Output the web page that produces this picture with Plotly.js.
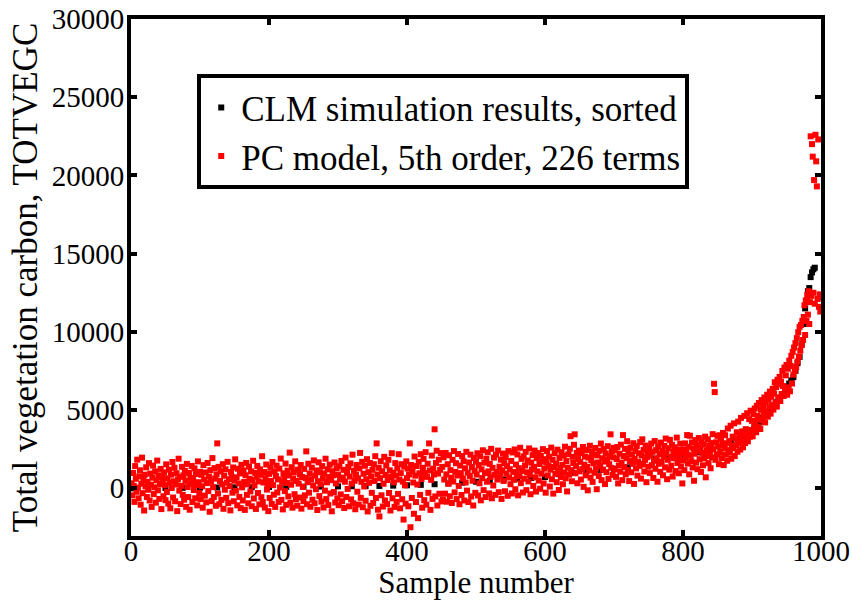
<!DOCTYPE html>
<html>
<head>
<meta charset="utf-8">
<script src="https://cdn.plot.ly/plotly-3.0.1.min.js"></script>
<style>
  html, body { margin: 0; padding: 0; background: #ffffff; }
  #chart { width: 852px; height: 600px; }
</style>
</head>
<body>
<div id="chart"></div>
<script>
// Sorted CLM output (total vegetation carbon) at selected sample numbers
const clmSample = [1, 25, 50, 75, 100, 125, 150, 175, 200, 225, 250, 275, 300, 320, 340, 360, 380, 400, 420, 440, 460, 480, 500, 520, 540, 560, 580, 600, 620, 640, 660, 680, 700, 720, 740, 760, 780, 800, 820, 840, 860, 870, 880, 890, 895, 900, 905, 910, 915, 920, 925, 930, 935, 940, 944, 948, 951, 954, 957, 960, 963, 966, 969, 972, 975, 977, 979, 981, 983, 985, 987, 989, 991];
const clmValue = [0, 10, 20, 30, 40, 50, 60, 70, 80, 90, 100, 110, 120, 130, 140, 150, 170, 190, 220, 260, 310, 360, 420, 480, 560, 620, 660, 720, 900, 1000, 1100, 1180, 1250, 1340, 1560, 1900, 2000, 2150, 2300, 2500, 2750, 3000, 3150, 3300, 3400, 3700, 4000, 4200, 4500, 4700, 4900, 5200, 5500, 5800, 6000, 6300, 6500, 6700, 6900, 7100, 7500, 8000, 8400, 9200, 10500, 11500, 12000, 12600, 12800, 13500, 13800, 14000, 14100];

// PC surrogate (5th order, 226 terms) prediction for samples 1..1000
const pcValue = [
  320, -450, 980, 150, -870, 1420, 610, -220, 1830, 40, -640, 760, 1150, -1050, 290, 1960, -310, 530, -1420, 870, 120, 1340, -560, 410, -90, 1610, -780, 940, 230, -1190, 680, 1450, -370, 60, 1080, -920, 510, 1770, -130, 830, -680, 270, 1240, -1330, 720, 380, -510, 1020, 190, -760,
  1530, -240, 640, -980, 1190, 350, -1280, 870, 20, 1680, -590, 450, 1310, -830, 240, 960, -1460, 570, 1890, -150, 730, -1010, 160, 1370, -420, 820, -730, 1120, 470, -1190, 1560, 80, -560, 990, -1370, 660, 280, 1430, -880, 540, -110, 1270, -640, 910, 210, -1090, 1720, 390, -300, 1050,
  -690, 860, 130, -1240, 1480, 560, -470, 1010, -900, 330, 1620, -180, 750, -1500, 1160, 430, -820, 1930, 70, -560, 1290, 620, -1120, 890, 2870, -340, 1370, -1020, 470, 1080, -740, 250, 1540, -1310, 800, -90, 1210, -610, 360, 1690, -950, 580, 140, -1410, 1040, 720, -280, 1330, -830, 490,
  1850, -160, 700, -1090, 1250, 310, -550, 950, -1270, 1500, 60, -780, 1140, 400, -1380, 830, 1620, -420, 250, -960, 1390, 610, -200, 1080, -1150, 520, 1760, -650, 180, 990, -1320, 740, 1430, -300, 440, -1030, 1210, 860, -570, 2050, -880, 370, 1040, -1230, 650, 1520, -80, 280, -1460, 920,
  -620, 1310, 470, -1000, 1680, 200, -410, 1070, -1190, 780, 1450, -270, 570, -870, 1260, 50, 1900, -740, 410, -1350, 960, 690, -180, 1580, -1060, 340, 1130, -520, 820, 2280, -930, 230, 1350, -1240, 610, 1010, -380, 1720, -700, 470, -1110, 1190, 300, -590, 880, 1490, -1300, 720, 90, -820,
  1240, -450, 660, 2360, -1020, 390, 1570, -280, 940, -1180, 570, 1320, -730, 180, 1780, -960, 800, -60, 1140, -1390, 450, 1660, -500, 1030, 260, -850, 1420, 640, -1230, 950, -150, 1890, -690, 380, 1210, -1070, 720, 1510, -330, 520, -1470, 1090, 830, -240, 1650, -910, 310, 1280, -640, 870,
  -1080, 1410, 560, -390, 1750, -830, 690, 1180, -1260, 420, 1960, -560, 980, -40, 1360, -1150, 750, 1590, -710, 300, 2150, -960, 1120, 480, -1340, 860, 1490, -220, 640, -1040, 1270, 2260, -610, 410, 1690, -1210, 930, 120, 1440, -800, 580, 1860, -1480, 1030, 350, 1620, -1120, 760, -290, 1180,
  -940, 1540, 470, 2050, -620, 2870, 880, -1370, 1310, -1800, 640, 1730, -450, 1090, -1170, 290, 2010, -780, 850, 1460, -1010, 530, 1820, -300, 1150, -1420, 720, 2240, -640, 1000, 380, -1190, 1610, 810, -870, 1270, -360, 2180, 560, -1280, 970, 1540, -700, 430, -2000, 1380, 190, -980, 1720, 650,
  1260, -1150, 880, 2870, -2490, 1490, -620, 1100, 370, -1630, 2030, 810, -880, 1420, 240, -1910, 1690, 960, -420, 2180, 600, -1240, 1310, 1880, -760, 980, 2310, -1050, 730, 1570, -290, 2870, 1140, -1380, 540, 2090, -680, 1250, 880, 3770, -520, 1620, 2400, -1100, 940, 1830, -350, 1180, 2250, -840,
  1370, -720, 1980, 560, -340, 2260, 890, -860, 1540, 290, 2110, -510, 1160, 680, -940, 1820, 430, 2380, -260, 1050, 1600, -690, 820, 2190, 150, -1020, 1450, 970, -430, 2060, 620, 1730, -780, 1280, 370, 2330, -150, 1000, -880, 1650, 790, 2150, -520, 1360, 480, -1100, 1930, 1120, -290, 1700,
  880, 2240, -460, 1490, 320, 2050, -770, 1210, 650, 2430, -120, 1640, 970, -560, 1890, 420, 2300, 1080, -330, 1560, 720, 2520, -640, 1310, 180, 1960, 870, -420, 2150, 1040, 560, 2410, -250, 1380, 790, 1830, -680, 1150, 2220, 470, 1610, -190, 2000, 940, 1420, -480, 2380, 690, 1220, 260,
  1750, -330, 2290, 1040, 540, 2480, -60, 1520, 910, 2160, -450, 1290, 760, 2590, 330, 1880, 1110, -270, 2040, 610, 1460, 2330, -120, 1020, 1780, 440, 2550, 860, -380, 1640, 1200, 2120, 150, 1370, 2410, 700, -210, 1930, 1080, 2260, 490, 1550, -30, 2080, 930, 1720, 2500, 310, 1260, 1860,
  -280, 1650, 2380, 820, 1430, 2020, 110, 1190, 2600, 580, 1820, -340, 1360, 2240, 930, 1580, 390, 2470, 1090, -110, 1940, 1270, 720, 2310, 1500, 260, 2090, 1010, 2660, 640, 1740, -200, 1320, 2180, 870, 2530, 3330, 1160, 450, 2010, 1620, 2780, 3450, 960, 1430, 2260, 320, 1870, 2410, 1080,
  1690, 560, 2250, 1220, 2640, 90, 1510, 2030, 830, 2450, 1370, -130, 1960, 1140, 2720, 680, 1800, 2330, 410, 1590, 2160, 990, 2580, 1260, -60, 2100, 1650, 780, 2400, 1430, 2860, 520, 1920, 1190, 2510, 1710, 270, 2230, 1030, 1850, 2690, 600, 1540, 2050, 3450, 1310, 2370, 860, 1980, 2590,
  1210, 2430, 730, 1870, 2640, 310, 1460, 2210, 1060, 2790, 1640, 520, 3400, 2060, 1350, 2520, 890, 1930, 3010, 1170, 2320, 460, 1740, 2600, 1020, 2150, 1560, 2880, 280, 1880, 2380, 1270, 2700, 810, 1690, 2240, 1430, 2950, 620, 2100, 3130, 1520, 2460, 1070, 1820, 2730, 390, 1990, 2290, 1380,
  2550, 970, 2080, 2860, 1480, 2330, 660, 1760, 3020, 1250, 2440, 1900, 420, 2670, 1570, 2190, 1050, 2920, 1680, 2380, 830, 2010, 2710, 1340, 3180, 2250, 580, 1820, 2560, 1190, 3100, 2000, 1450, 2780, 750, 2340, 1920, 2620, 1100, 2150, 3240, 1620, 2450, 960, 2000, 2850, 1390, 2280, 310, 1780,
  2480, 1160, 2870, 1950, 2290, 3400, 1580, 2650, 890, 3360, 2120, 1740, 2930, 1330, 2540, 480, 2210, 3080, 1640, 2750, 1220, 2380, 3210, 1860, 2610, 1040, 2990, 2260, 1470, 2800, 1910, 3300, 700, 2430, 2060, 3130, 1610, 2720, 2330, 1280, 2890, 1980, 3460, 2500, 6680, 6150, 1820, 2940, 2180, 3350,
  2670, 1540, 3390, 2320, 3150, 1930, 2790, 3540, 1480, 2560, 3390, 2150, 2880, 1760, 3820, 2440, 3010, 2280, 4000, 1890, 2720, 3300, 2560, 4150, 2060, 3180, 2760, 3580, 2340, 4260, 2900, 3320, 2480, 4500, 3060, 3640, 2620, 3460, 4630, 2890, 3780, 3190, 4800, 3000, 3570, 4420, 3300, 4960, 3730, 4310,
  3320, 4740, 3910, 5100, 4280, 3580, 5270, 4630, 3930, 5450, 4410, 3790, 5020, 5640, 4340, 5260, 4680, 5810, 4210, 5500, 4920, 5980, 4580, 5690, 5160, 6180, 4770, 5850, 5320, 6360, 5030, 6060, 6780, 5450, 6470, 5220, 6940, 5790, 6640, 7120, 5580, 6800, 6030, 7500, 6530, 5900, 7720, 6360, 7220, 7880,
  5980, 7640, 6450, 8160, 6200, 7820, 8470, 6700, 8720, 7260, 9000, 7500, 9280, 7750, 9600, 8100, 9980, 8420, 10320, 8800, 10440, 9160, 10700, 9480, 10950, 11700, 9800, 12000, 10700, 12350, 11100, 12600, 10500, 11900, 22500, 12300, 22000, 21200, 12500, 19700, 11800, 22600, 20900, 19300, 12100, 22300, 11600, 12400, 11300, 12200
];
const pcSample = pcValue.map((_, i) => i + 1);

const xTicks = [0, 200, 400, 600, 800, 1000];
const yTicks = [0, 5000, 10000, 15000, 20000, 25000, 30000];

const serif = 'Liberation Serif, Times New Roman, serif';

const traces = [
  {
    type: 'scatter', mode: 'markers',
    name: 'CLM simulation results, sorted',
    x: clmSample, y: clmValue,
    marker: { symbol: 'square', size: 6, color: '#000000', line: { width: 0 } }
  },
  {
    type: 'scatter', mode: 'markers',
    name: 'PC model, 5th order, 226 terms',
    x: pcSample, y: pcValue,
    marker: { symbol: 'square', size: 6, color: '#ff0000', line: { width: 0 } }
  }
];

const axisCommon = {
  showline: true, linewidth: 4, linecolor: '#000000', mirror: 'ticks',
  ticks: 'inside', ticklen: 6, tickwidth: 4, tickcolor: '#000000',
  showgrid: false, zeroline: false, tickformat: 'd',
  tickfont: { family: serif, size: 29, color: '#000000' }
};

const layout = {
  width: 852, height: 600,
  paper_bgcolor: '#ffffff', plot_bgcolor: '#ffffff',
  margin: { l: 131, r: 31, t: 19, b: 64 },
  showlegend: true,
  legend: {
    x: 0.096, y: 0.893, xanchor: 'left', yanchor: 'top',
    bgcolor: '#ffffff', bordercolor: '#000000', borderwidth: 4,
    font: { family: serif, size: 35, color: '#000000' },
    itemwidth: 30
  },
  xaxis: Object.assign({}, axisCommon, {
    range: [0, 1000], tickvals: xTicks, ticklabelstandoff: -14,
    title: { text: 'Sample number', font: { family: serif, size: 31, color: '#000000' }, standoff: 3 }
  }),
  yaxis: Object.assign({}, axisCommon, {
    range: [-3050, 30000], tickvals: yTicks, ticklabelstandoff: -3,
    title: { text: 'Total vegetation carbon, TOTVEGC', font: { family: serif, size: 35, color: '#000000' }, standoff: 4 }
  })
};

Plotly.newPlot('chart', traces, layout, { staticPlot: true, displayModeBar: false });
</script>
</body>
</html>
